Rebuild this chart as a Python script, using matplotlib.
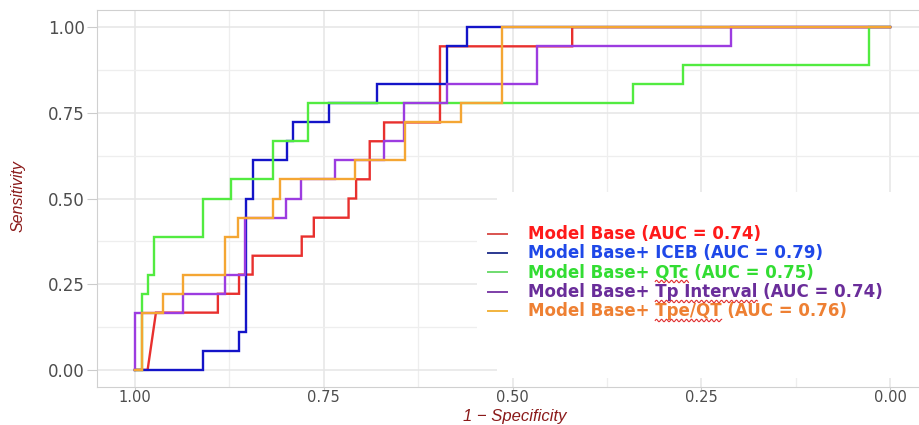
import numpy as np
import matplotlib.pyplot as plt
from matplotlib.patches import Rectangle
from matplotlib.lines import Line2D
from matplotlib.ticker import MultipleLocator

# ROC curve coordinates (specificity, sensitivity) for each model
base_spec = [1.0, 0.983, 0.972, 0.890, 0.890, 0.862, 0.862, 0.844, 0.844, 0.779, 0.779, 0.763, 0.763,
             0.717, 0.717, 0.707, 0.707, 0.689, 0.689, 0.670, 0.670, 0.596, 0.596, 0.421, 0.421, 0.0]
base_sens = [0.0, 0.0, 0.167, 0.167, 0.222, 0.222, 0.278, 0.278, 0.333, 0.333, 0.389, 0.389, 0.444,
             0.444, 0.5, 0.5, 0.556, 0.556, 0.667, 0.667, 0.722, 0.722, 0.944, 0.944, 1.0, 1.0]

iceb_spec = [1.0, 0.910, 0.910, 0.862, 0.862, 0.853, 0.853, 0.844, 0.844, 0.799, 0.799,
             0.791, 0.791, 0.743, 0.743, 0.679, 0.679, 0.587, 0.587, 0.560, 0.560, 0.0]
iceb_sens = [0.0, 0.0, 0.056, 0.056, 0.111, 0.111, 0.5, 0.5, 0.611, 0.611, 0.667,
             0.667, 0.722, 0.722, 0.778, 0.778, 0.833, 0.833, 0.944, 0.944, 1.0, 1.0]

qtc_spec = [1.0, 0.991, 0.991, 0.983, 0.983, 0.974, 0.974, 0.910, 0.910, 0.872, 0.872,
            0.817, 0.817, 0.771, 0.771, 0.340, 0.340, 0.274, 0.274, 0.028, 0.028, 0.0]
qtc_sens = [0.0, 0.0, 0.222, 0.222, 0.278, 0.278, 0.389, 0.389, 0.5, 0.5, 0.556,
            0.556, 0.667, 0.667, 0.778, 0.778, 0.833, 0.833, 0.889, 0.889, 1.0, 1.0]

tp_spec = [1.0, 1.0, 0.936, 0.936, 0.881, 0.881, 0.854, 0.854, 0.800, 0.800, 0.780, 0.780, 0.735,
           0.735, 0.670, 0.670, 0.644, 0.644, 0.587, 0.587, 0.468, 0.468, 0.211, 0.211, 0.0]
tp_sens = [0.0, 0.167, 0.167, 0.222, 0.222, 0.278, 0.278, 0.444, 0.444, 0.5, 0.5, 0.556, 0.556,
           0.611, 0.611, 0.667, 0.667, 0.778, 0.778, 0.833, 0.833, 0.944, 0.944, 1.0, 1.0]

tpe_spec = [1.0, 0.991, 0.991, 0.963, 0.963, 0.936, 0.936, 0.881, 0.881, 0.864, 0.864, 0.817,
            0.817, 0.808, 0.808, 0.709, 0.709, 0.642, 0.642, 0.568, 0.568, 0.514, 0.514, 0.0]
tpe_sens = [0.0, 0.0, 0.167, 0.167, 0.222, 0.222, 0.278, 0.278, 0.389, 0.389, 0.444, 0.444,
            0.5, 0.5, 0.556, 0.556, 0.611, 0.611, 0.722, 0.722, 0.778, 0.778, 1.0, 1.0]

labels = ["Model Base (AUC = 0.74)",
          "Model Base+ ICEB (AUC = 0.79)",
          "Model Base+ QTc (AUC = 0.75)",
          "Model Base+ Tp Interval (AUC = 0.74)",
          "Model Base+ Tpe/QT (AUC = 0.76)"]
flagged_words = [None, None, "QTc", "Tp Interval", "Tpe/QT"]

curves = [(base_spec, base_sens), (iceb_spec, iceb_sens), (qtc_spec, qtc_sens),
          (tp_spec, tp_sens), (tpe_spec, tpe_sens)]
line_colors = ["#E8302E", "#1414C8", "#52EB40", "#9C3CE0", "#F4A633"]
key_colors = ["#D9534F", "#2B3990", "#6FDC6F", "#7E3FA8", "#F2B33D"]
text_colors = ["#FF1A1A", "#1F48E8", "#33DD33", "#6A2D9A", "#EE8033"]

W, H = 919, 425
fig = plt.figure(figsize=(W / 100, H / 100), dpi=100)
ax = fig.add_axes([97 / W, 1 - 387 / H, 831 / W, 377 / H])

for (sp, se), c in zip(curves, line_colors):
    ax.plot(sp, se, color=c, lw=1.7, solid_joinstyle="miter", zorder=3)

ax.set_xlim(1.05, -0.05)
ax.set_ylim(-0.05, 1.05)
for axis in (ax.xaxis, ax.yaxis):
    axis.set_major_locator(MultipleLocator(0.25))
    axis.set_minor_locator(MultipleLocator(0.125))
ax.xaxis.set_major_formatter(lambda v, p: f"{v:.2f}")
ax.yaxis.set_major_formatter(lambda v, p: f"{v:.2f}")
ax.grid(True, which="major", color="#E6E6E6", lw=1.1)
ax.grid(True, which="minor", color="#EEEEEE", lw=0.9)
ax.set_axisbelow(True)
ax.tick_params(which="minor", length=0)
ax.tick_params(axis="y", which="major", length=7, width=0.8, color="#CCCCCC", pad=2,
               labelsize=12, labelcolor="#4D4D4D")
ax.tick_params(axis="x", which="major", length=2, width=0.8, color="#CCCCCC", pad=0.3,
               labelsize=10.5, labelcolor="#4D4D4D")
for s in ax.spines.values():
    s.set_color("#D0D0D0")
    s.set_linewidth(0.8)

# white panel behind the legend block
for x0, y0, x1, y1 in [(497, 192, 930, 378), (477, 205, 930, 364)]:
    fig.add_artist(Rectangle((x0 / W, 1 - y1 / H), (x1 - x0) / W, (y1 - y0) / H,
                             transform=fig.transFigure, facecolor="white",
                             edgecolor="none", zorder=5))

fig.text(18 / W, 1 - 196 / H, "Sensitivity", rotation=90, ha="center", va="center",
         color="#8B1A1A", fontsize=11.5, style="italic",
         family=["Liberation Sans Narrow", "Liberation Sans", "DejaVu Sans"])
fig.text(515 / W, 1 - 421.5 / H, "1 \u2212 Specificity", ha="center", va="baseline",
         color="#8B1A1A", fontsize=12, style="italic",
         family=["Liberation Sans", "DejaVu Sans"])

# legend block
rows_y = [234, 253, 272, 292, 311]
texts = []
for lab, ry, kc, tc in zip(labels, rows_y, key_colors, text_colors):
    fig.add_artist(Line2D([488 / W, 507 / W], [1 - ry / H, 1 - ry / H], color=kc,
                          lw=1.4, transform=fig.transFigure, zorder=6))
    t = fig.text(528 / W, 1 - ry / H, lab, color=tc, fontsize=12, fontweight="bold",
                 va="center", ha="left", zorder=6)
    texts.append(t)

# wavy spell-check underlines under some words
fig.canvas.draw()
renderer = fig.canvas.get_renderer()


def text_width(s, ref):
    tmp = fig.text(0, 0, s, fontsize=ref.get_fontsize(), fontweight=ref.get_fontweight())
    w = tmp.get_window_extent(renderer).width
    tmp.remove()
    return w


for t, word in zip(texts, flagged_words):
    if word is None:
        continue
    s = t.get_text()
    i = s.index(word)
    bb = t.get_window_extent(renderer)
    x_end = bb.x0 + text_width(s[:i + len(word)], t)
    x_start = x_end - text_width(word, t)
    xs = np.linspace(x_start, x_end, 200)
    ys = bb.y0 - 0.5 + 1.2 * np.sin((xs - x_start) / 5.0 * 2 * np.pi)
    fig.add_artist(Line2D(xs / W, ys / H, color="#E03030", lw=0.8,
                          transform=fig.transFigure, zorder=7))

fig.savefig("out.png", dpi=100)
